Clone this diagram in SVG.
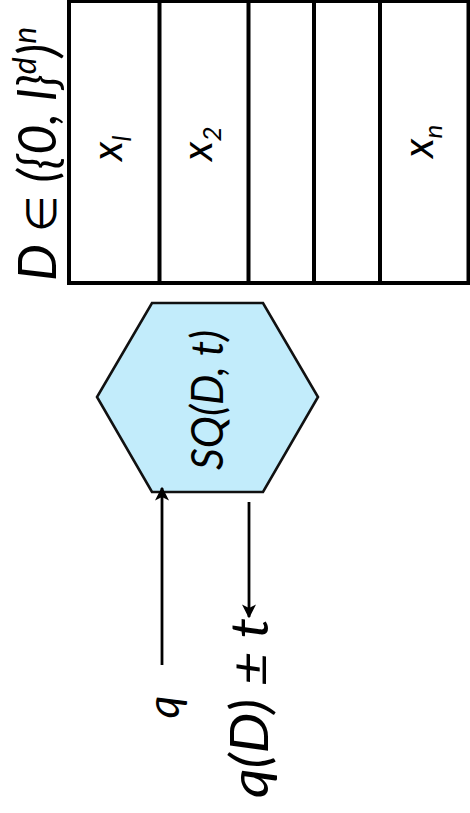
<svg xmlns="http://www.w3.org/2000/svg" width="470" height="813" viewBox="0 0 470 813">
  <defs>
    <style>
      .lbl { font-family: Lato, "Open Sans", "Liberation Sans", sans-serif; font-style: italic; fill: #000; }
      .cell { fill: none; stroke: #000; stroke-width: 4; }
      .wire { stroke: #000; stroke-width: 2.8; fill: none; }
    </style>
    <marker id="head" viewBox="0 0 10 10" refX="9" refY="5" markerWidth="5" markerHeight="5" orient="auto" markerUnits="strokeWidth">
      <path d="M0,0 L10,5 L0,10 L2.5,5 z" fill="#000"/>
    </marker>
  </defs>
  <rect width="470" height="813" fill="#fff"/>

  <!-- database D laid out as n rows -->
  <g id="database">
    <text class="lbl" font-size="52" transform="translate(56,281) rotate(-90)">D <tspan font-size="42" font-style="normal">∈</tspan> ({0, l}<tspan font-size="32" dy="-20">d</tspan><tspan font-size="52" dy="20">)</tspan><tspan font-size="32" dy="-20">n</tspan></text>
    <rect class="cell" x="69" y="1" width="399.5" height="282"/>
    <line class="cell" x1="159.5" y1="1" x2="159.5" y2="283"/>
    <line class="cell" x1="248.5" y1="1" x2="248.5" y2="283"/>
    <line class="cell" x1="314" y1="1" x2="314" y2="283"/>
    <line class="cell" x1="380" y1="1" x2="380" y2="283"/>
    <text class="lbl" font-size="42" transform="translate(122,161) rotate(-90)">x<tspan font-size="26" dy="9">l</tspan></text>
    <text class="lbl" font-size="42" transform="translate(212,161) rotate(-90)">x<tspan font-size="26" dy="9">2</tspan></text>
    <text class="lbl" font-size="42" transform="translate(433,158) rotate(-90)">x<tspan font-size="26" dy="9">n</tspan></text>
  </g>

  <!-- statistical query oracle -->
  <g id="oracle">
    <polygon points="152,303 263,303 318,397 263,492 152,492 97,397" fill="#c2ecfb" stroke="#111" stroke-width="2.6" stroke-linejoin="miter"/>
    <text class="lbl" font-size="44" text-anchor="middle" textLength="140" lengthAdjust="spacingAndGlyphs" transform="translate(223,400) rotate(-90)">SQ(D, t)</text>
  </g>

  <g id="connectors">
    <line class="wire" x1="162" y1="665" x2="162" y2="488" marker-end="url(#head)"/>
    <line class="wire" x1="249" y1="502" x2="249" y2="617" marker-end="url(#head)"/>
  </g>

  <g id="query">
    <text class="lbl" font-size="44" text-anchor="middle" transform="translate(179,707) rotate(-90)">q</text>
  </g>
  <g id="answer">
    <text class="lbl" font-size="52" text-anchor="middle" textLength="180" lengthAdjust="spacingAndGlyphs" transform="translate(268,708) rotate(-90)">q(D) ± t</text>
  </g>
</svg>
